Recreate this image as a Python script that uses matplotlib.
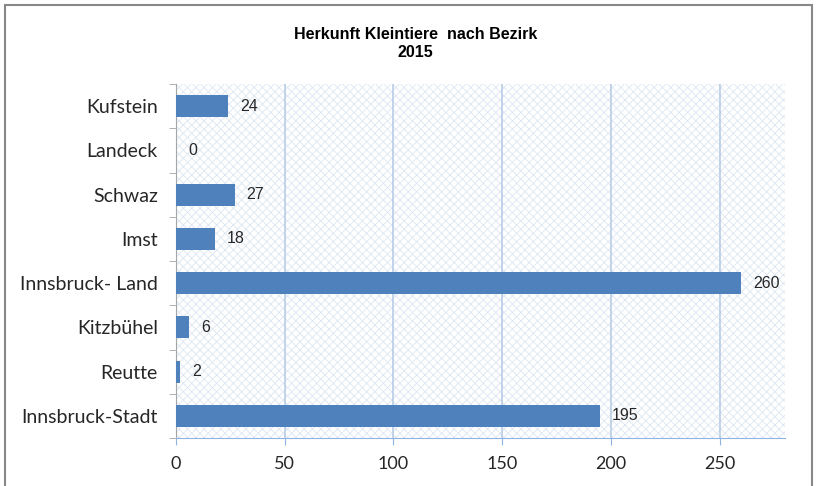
import matplotlib.pyplot as plt
from matplotlib.patches import Rectangle

# data (top to bottom as in the chart)
bezirke = ['Kufstein', 'Landeck', 'Schwaz', 'Imst', 'Innsbruck- Land',
           'Kitzbühel', 'Reutte', 'Innsbruck-Stadt']
anzahl = [24, 0, 27, 18, 260, 6, 2, 195]

plt.rcParams['font.family'] = ['Lato', 'DejaVu Sans']
plt.rcParams['hatch.color'] = '#dde6f3'
plt.rcParams['hatch.linewidth'] = 0.6

fig = plt.figure(figsize=(8.17, 4.86), dpi=100)
fig.patches.append(Rectangle((0.006, -0.05), 0.988, 1.04, transform=fig.transFigure,
                             fill=False, edgecolor='#888888', linewidth=1.5))

ax = fig.add_axes([0.2154, 0.0988, 0.7454, 0.7282])
ax.add_patch(Rectangle((0, 0), 1, 1, transform=ax.transAxes, facecolor='white',
                       hatch='xxxx', edgecolor='#dde6f3', linewidth=0, zorder=0))

y = list(range(len(bezirke)))[::-1]
ax.barh(y, anzahl, height=0.5, color='#4f81bd', zorder=3)
for yi, v in zip(y, anzahl):
    ax.text(v + 5.5, yi, str(v), va='center', ha='left', fontsize=11.5,
            color='#262626', family=['Liberation Sans'], zorder=4)

ax.set_xlim(0, 280)
ax.set_ylim(-0.5, len(bezirke) - 0.5)
ax.set_xticks([0, 50, 100, 150, 200, 250])
ax.set_yticks(y)
ax.set_yticklabels(bezirke)
ax.set_yticks([i - 0.5 for i in range(len(bezirke) + 1)], minor=True)
ax.tick_params(axis='y', which='major', length=0, labelsize=14, pad=13, colors='#262626')
ax.tick_params(axis='y', which='minor', length=5, color='#a6a6a6')
ax.tick_params(axis='x', length=5, labelsize=13, pad=8, colors='#262626')
ax.tick_params(axis='x', color='#8eb4e3')
ax.grid(axis='x', color='#b9cde5', linewidth=1.2, zorder=1)
for s in ['top', 'right']:
    ax.spines[s].set_visible(False)
ax.spines['left'].set_color('#a6a6a6')
ax.spines['bottom'].set_color('#8eb4e3')

fig.text(0.509, 0.91, 'Herkunft Kleintiere  nach Bezirk\n2015', ha='center', va='center',
         fontsize=11.5, fontweight='bold', family=['Liberation Sans'], linespacing=1.25)

fig.savefig('out.png', dpi=100)
